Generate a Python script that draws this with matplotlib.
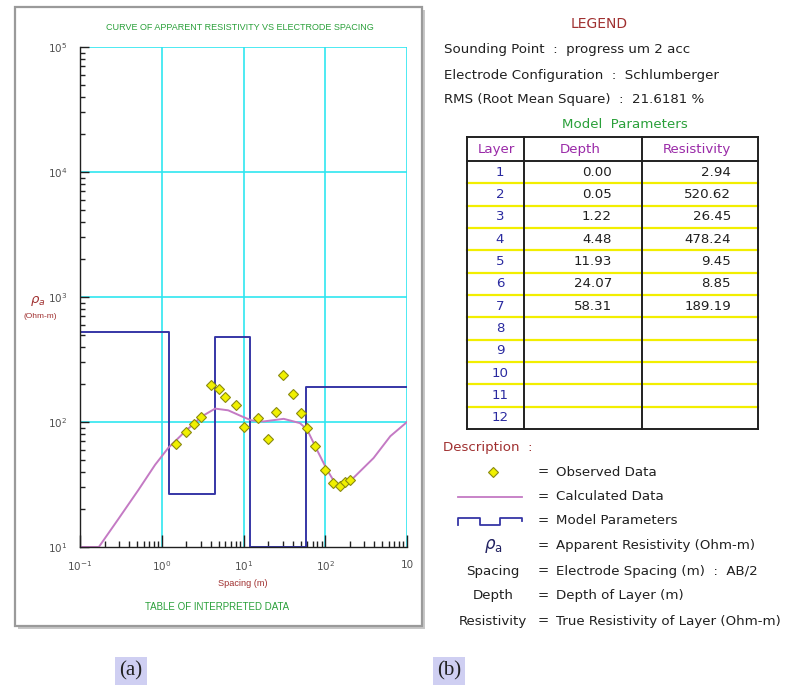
import numpy as np
import matplotlib
matplotlib.use("Agg")
import matplotlib.pyplot as plt
from matplotlib.patches import Rectangle

# ---- data ----
obs_spacing = [1.5, 2, 2.5, 3, 4, 5, 6, 8, 10, 15, 20, 25, 30, 40, 50, 60, 75,
               100, 125, 150, 175, 200]
obs_rho = [67, 83, 97, 109, 198, 185, 158, 138, 91, 108, 73, 121, 236, 168,
           118, 89, 64, 41, 32.3, 30.8, 33.1, 34.4]

calc_spacing = [0.1, 0.17, 0.29, 0.52, 0.83, 1.2, 1.93, 3.1, 4.5, 6.5, 9.5,
                12.5, 17.6, 31, 49, 60, 79, 105, 132, 152, 200, 390, 625, 1000]
calc_rho = [10, 10, 16.5, 28.7, 45.5, 62, 84, 111, 128, 124, 111, 103, 101,
            106, 98, 87, 60, 41.5, 32.5, 30.9, 33.5, 51.5, 77, 100]

layer_no = list(range(1, 13))
layer_depth = [0.00, 0.05, 1.22, 4.48, 11.93, 24.07, 58.31]
layer_res = [2.94, 520.62, 26.45, 478.24, 9.45, 8.85, 189.19]

xtick_vals = [0.1, 1, 10, 100, 1000]
xtick_labels = [r"$10^{-1}$", r"$10^{0}$", r"$10^{1}$", r"$10^{2}$", "10"]
ytick_vals = [10, 100, 1000, 10000, 100000]
ytick_labels = [r"$10^{1}$", r"$10^{2}$", r"$10^{3}$", r"$10^{4}$", r"$10^{5}$"]

sounding_info = [
    ("Sounding Point", "progress um 2 acc"),
    ("Electrode Configuration", "Schlumberger"),
    ("RMS (Root Mean Square)", "21.6181 %"),
]
desc_labels = ["Observed Data", "Calculated Data", "Model Parameters",
               "Apparent Resistivity (Ohm-m)", "Electrode Spacing (m)  :  AB/2",
               "Depth of Layer (m)", "True Resistivity of Layer (Ohm-m)"]

W, H = 786, 688
XMIN, XMAX, YMIN, YMAX = 0.1, 1000, 10, 1e5

GRID = "#2fe6f0"
MODEL = "#3636a6"
CALC = "#c47ac4"
DARKRED = "#a03030"
GREEN = "#2aa03a"
PURPLE = "#9a2aa8"
BLUE = "#2a2aa0"
narrow = "Liberation Sans"
sans = "DejaVu Sans"
FS = 9.6

fig = plt.figure(figsize=(W / 100, H / 100), dpi=100)

# overlay in pixel coordinates for panel frame, texts and the table
ov = fig.add_axes([0, 0, 1, 1], zorder=0)
ov.set_xlim(0, W)
ov.set_ylim(H, 0)
ov.axis("off")

# panel with a soft shadow
ov.add_patch(Rectangle((18, 10), 407, 619, facecolor="#c8c8c8", edgecolor="none"))
ov.add_patch(Rectangle((15, 7), 407, 619, facecolor="white", edgecolor="#9a9a9a", lw=1.6))

# ---- chart ----
ax = fig.add_axes([80 / W, (H - 547) / H, (407 - 80) / W, (547 - 47) / H], zorder=1)
ax.set_xscale("log")
ax.set_yscale("log")
ax.set_xlim(XMIN, XMAX)
ax.set_ylim(YMIN, YMAX)

for v in xtick_vals[1:]:
    ax.axvline(v, color=GRID, lw=1.2, zorder=1)
for v in ytick_vals[1:]:
    ax.axhline(v, color=GRID, lw=1.2, zorder=1)

# model staircase (values below the axis floor drawn on the floor)
step_x = layer_depth[1:] + [XMAX]
step_y = np.clip(layer_res[1:] + [layer_res[-1]], YMIN, None)
ax.step(step_x, step_y, where="post", color=MODEL, lw=1.4, zorder=2)

ax.plot(calc_spacing, np.clip(calc_rho, YMIN, None), color=CALC, lw=1.4, zorder=3)
ax.plot(obs_spacing, obs_rho, ls="none", marker="D", ms=5, mfc="#f0f000",
        mec="#8a8a10", mew=0.8, zorder=4)

for s in ["top", "right"]:
    ax.spines[s].set_visible(False)
for s in ["left", "bottom"]:
    ax.spines[s].set_color("#202020")
    ax.spines[s].set_linewidth(1.0)
    ax.spines[s].set_zorder(5)

ax.set_xticks(xtick_vals)
ax.set_xticklabels(xtick_labels)
ax.set_yticks(ytick_vals)
ax.set_yticklabels(ytick_labels)
ax.tick_params(axis="x", which="major", direction="in", length=9, width=1,
               color="#202020", pad=9, labelsize=7.5, labelcolor="#505050")
ax.tick_params(axis="x", which="minor", direction="in", length=4.5, width=1,
               color="#202020")
ax.tick_params(axis="y", which="major", direction="in", length=6.5, width=1,
               color="#202020", pad=9, labelsize=7.5, labelcolor="#505050")
ax.tick_params(axis="y", which="minor", direction="in", length=3.5, width=1,
               color="#202020")

ov.text(240, 28, "CURVE OF APPARENT RESISTIVITY VS ELECTRODE SPACING", color=GREEN,
        fontsize=6.5, family=narrow, ha="center", va="center")
ov.text(243, 583, "Spacing (m)", color=DARKRED, fontsize=6.6, family=narrow,
        ha="center", va="center")
ov.text(217, 607, "TABLE OF INTERPRETED DATA", color=GREEN, fontsize=7,
        family=narrow, ha="center", va="center")
ov.text(38, 301, r"$\rho_a$", color=DARKRED, fontsize=9.5, ha="center", va="center")
ov.text(40, 316, "(Ohm-m)", color=DARKRED, fontsize=6, family=narrow,
        ha="center", va="center")

# ---- legend side ----
ov.text(599, 24, "LEGEND", color=DARKRED, fontsize=10, family=sans,
        ha="center", va="center")
for i, (k, v) in enumerate(sounding_info):
    ov.text(444, 50 + i * 25, f"{k}  :  {v}", color="#202020", fontsize=FS,
            family=sans, ha="left", va="center")
ov.text(625, 125, "Model  Parameters", color=GREEN, fontsize=FS, family=sans,
        ha="center", va="center")

col_x = [467, 524, 642, 758]
top, head_bot = 137, 161
row_h = (429 - head_bot) / len(layer_no)
bottom = head_bot + row_h * len(layer_no)
for i in range(len(layer_no) - 1):
    y = head_bot + (i + 1) * row_h
    ov.plot([col_x[0], col_x[-1]], [y, y], color="#f2ee00", lw=1.6, zorder=2)
ov.plot([col_x[0], col_x[-1]], [head_bot, head_bot], color="#202020", lw=1.4, zorder=3)
for x in col_x:
    ov.plot([x, x], [top, bottom], color="#202020", lw=1.4, zorder=3)
for y in (top, bottom):
    ov.plot([col_x[0], col_x[-1]], [y, y], color="#202020", lw=1.4, zorder=3)

hy = (top + head_bot) / 2
ov.text(496, hy, "Layer", color=PURPLE, fontsize=FS, family=sans, ha="center", va="center")
ov.text(580, hy, "Depth", color=PURPLE, fontsize=FS, family=sans, ha="center", va="center")
ov.text(697, hy, "Resistivity", color=PURPLE, fontsize=FS, family=sans,
        ha="center", va="center")
for i, n in enumerate(layer_no):
    y = head_bot + (i + 0.5) * row_h
    ov.text(500, y, str(n), color=BLUE, fontsize=FS, family=sans, ha="center", va="center")
    if i < len(layer_depth):
        ov.text(612, y, f"{layer_depth[i]:.2f}", color="#202020", fontsize=FS,
                family=sans, ha="right", va="center")
        ov.text(731, y, f"{layer_res[i]:.2f}", color="#202020", fontsize=FS,
                family=sans, ha="right", va="center")

# description block
ov.text(443, 447, "Description  :", color=DARKRED, fontsize=FS, family=sans,
        ha="left", va="center")
desc_y = [472, 497, 521, 546, 571, 596, 621]
for y, lab in zip(desc_y, desc_labels):
    ov.text(543, y, "=", color="#202020", fontsize=FS, family=sans, ha="center", va="center")
    ov.text(556, y, lab, color="#202020", fontsize=FS, family=sans, ha="left", va="center")
ov.plot([493], [desc_y[0]], ls="none", marker="D", ms=5, mfc="#f0f000",
        mec="#8a8a10", mew=0.8)
ov.plot([458, 522], [desc_y[1], desc_y[1]], color=CALC, lw=1.3)
sy = desc_y[2]
ov.plot([458, 458, 480, 480, 500, 500, 522, 522],
        [sy + 4, sy - 3, sy - 3, sy + 4, sy + 4, sy - 3, sy - 3, sy],
        color=MODEL, lw=1.3)
ov.text(493, desc_y[3], r"$\rho_\mathregular{a}$", color="#202060", fontsize=12,
        ha="center", va="center")
for y, lab in zip(desc_y[4:], ["Spacing", "Depth", "Resistivity"]):
    ov.text(493, y, lab, color="#202020", fontsize=FS, family=sans, ha="center", va="center")

# sub-figure labels
for x, lab in [(131, "(a)"), (449, "(b)")]:
    ov.text(x, 671, lab, color="#202020", fontsize=15, family="Liberation Serif",
            ha="center", va="center",
            bbox=dict(boxstyle="square,pad=0.2", facecolor="#cfcff2", edgecolor="none"))

fig.savefig("out.png", dpi=100)
